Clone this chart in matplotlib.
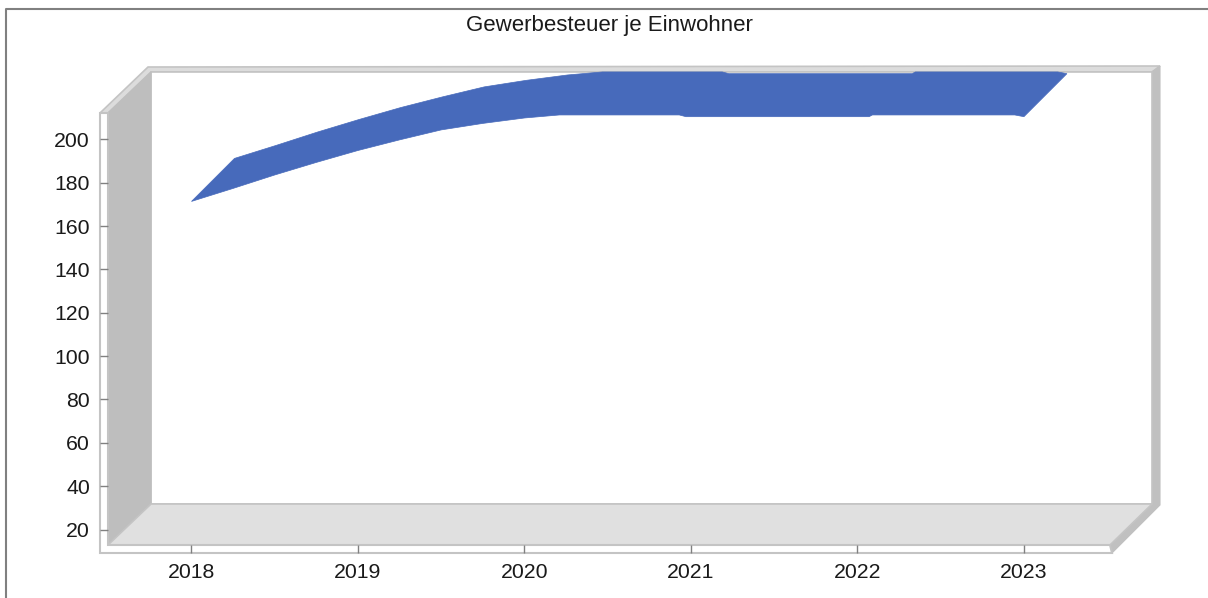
import matplotlib
matplotlib.use("Agg")
import matplotlib.pyplot as plt
from matplotlib.patches import Polygon
import numpy as np

plt.rcParams['font.family'] = ['Liberation Sans', 'DejaVu Sans']

W, H = 1208, 598

title = "Gewerbesteuer je Einwohner"
year_ticks = [2018, 2019, 2020, 2021, 2022, 2023]
value_ticks = [20, 40, 60, 80, 100, 120, 140, 160, 180, 200]

years = [2018, 2018.25, 2018.5, 2018.75, 2019, 2019.25, 2019.5, 2019.75, 2020,
         2020.21, 2020.93, 2020.97, 2022.07, 2022.09, 2022.945, 2023]
values = [171.4, 177.4, 183.6, 189.4, 194.9, 199.8, 204.4, 207.4, 209.9,
          211.3, 211.3, 210.5, 210.5, 211.3, 211.3, 210.5]

fig = plt.figure(figsize=(W / 100, H / 100), dpi=100)

# pixel layer for the fake 3d box
bg = fig.add_axes([0, 0, 1, 1])
bg.set_xlim(0, W)
bg.set_ylim(H, 0)
bg.axis('off')

def poly(pts, fc, ec='none', lw=0, z=1):
    bg.add_patch(Polygon(pts, closed=True, fc=fc, ec=ec, lw=lw, zorder=z))

# outer border of the picture
bg.plot([5.5, 5.5, W], [H, 9, 9], color='#808080', lw=1.5, zorder=1)

line = '#C4C4C4'
poly([(148, 67), (1160, 66), (1152, 72), (151, 72), (108, 113), (100, 113)], '#DCDCDC', line, 1.2)
poly([(1152, 72), (1160, 66), (1160, 505), (1112, 553), (1110, 545), (1152, 504)], '#C0C0C0', '#C0C0C0', 0.8)
poly([(151, 72), (1152, 72), (1152, 504), (151, 504)], 'white', line, 1.2)
poly([(108, 113), (151, 72), (151, 504), (108, 545)], '#BEBEBE', '#BEBEBE', 0.8)
poly([(108, 545), (151, 504), (1152, 504), (1110, 545)], '#E0E0E0', line, 1.2)
poly([(100, 113), (108, 113), (108, 545), (1110, 545), (1112, 553), (100, 553)], 'white', line, 1.5, z=2)

# data layer sits on the front plane of the box
left, right, top, bottom = 108, 1110, 113, 545
ax = fig.add_axes([left / W, 1 - bottom / H, (right - left) / W, (bottom - top) / H])
ax.patch.set_alpha(0)
ax.set_xlim(2017.4985, 2023.517)
ax.set_ylim(12.85, 212.2)
for s in ax.spines.values():
    s.set_visible(False)

depth_x = 43 / 166.5
depth_y = 43 / 2.167
x = np.array(years)
y = np.array(values)
ax.fill(np.r_[x, (x + depth_x)[::-1]], np.r_[y, (y + depth_y)[::-1]],
        color='#476ABB', lw=0.5, clip_on=False, zorder=5)

ax.set_xticks(year_ticks)
ax.set_yticks(value_ticks)
ax.tick_params(axis='both', length=6, width=1, color='#808080', labelsize=15.3,
               labelcolor='#1a1a1a')
ax.tick_params(axis='y', pad=7)
ax.tick_params(axis='x', pad=7)

fig.text(609.5 / W, 1 - 25.5 / H, title, ha='center', va='center', fontsize=16, color='#1a1a1a')

fig.savefig('out.png', dpi=100)
